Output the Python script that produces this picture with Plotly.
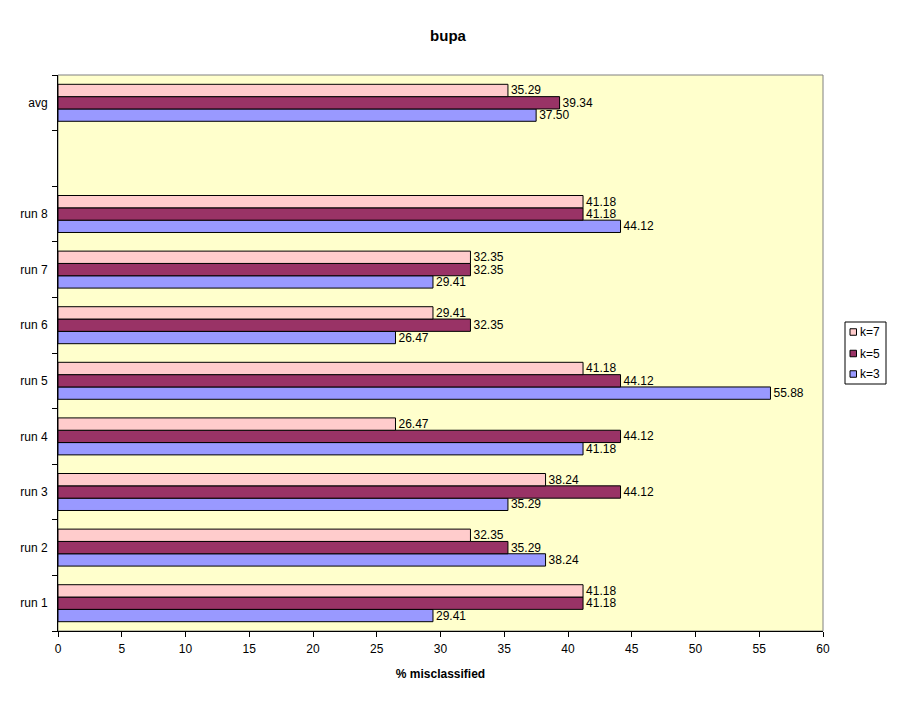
import plotly.graph_objects as go

categories = ["run 1", "run 2", "run 3", "run 4", "run 5", "run 6", "run 7", "run 8", " ", "avg"]
k3 = [29.41, 38.24, 35.29, 41.18, 55.88, 26.47, 29.41, 44.12, None, 37.50]
k5 = [41.18, 35.29, 44.12, 44.12, 44.12, 32.35, 32.35, 41.18, None, 39.34]
k7 = [41.18, 32.35, 38.24, 26.47, 41.18, 29.41, 32.35, 41.18, None, 35.29]
x_ticks = [0, 5, 10, 15, 20, 25, 30, 35, 40, 45, 50, 55, 60]

series = [("k=3", k3, "#9999FF"), ("k=5", k5, "#993366"), ("k=7", k7, "#FFCCCC")]

FONT = "Liberation Sans, Arial"
# page has an 8px body margin; figure is sized so the screen layout matches
W, H = 889, 694
ML, MR, MT, MB = 50, 74, 67, 71
PW, PH = W - ML - MR, H - MT - MB
OFF = 8


def px(X):  # screen x -> paper x
    return (X - OFF - ML) / PW


def py(Y):  # screen y -> paper y
    return (H - MB - (Y - OFF)) / PH


fig = go.Figure()
for name, vals, col in series:
    fig.add_trace(go.Bar(
        name=name, y=categories, x=vals, orientation="h",
        marker=dict(color=col, line=dict(color="black", width=1)),
        texttemplate="%{x:.2f}", textposition="outside", cliponaxis=False,
        constraintext="none", showlegend=False,
        textfont=dict(family=FONT, size=12, color="black"),
    ))

shapes = [dict(type="rect", xref="paper", yref="paper", x0=0, x1=1, y0=0, y1=1,
               line=dict(color="#808080", width=1), layer="below")]
# manual legend (reversed order: k=7 on top)
shapes.append(dict(type="rect", xref="paper", yref="paper",
                   x0=px(845), x1=px(886), y0=py(384), y1=py(322),
                   line=dict(color="black", width=1), fillcolor="white"))
annotations = []
legend_y = [374, 353.5, 332]
for (name, vals, col), ly in zip(series, legend_y):
    shapes.append(dict(type="rect", xref="paper", yref="paper",
                       x0=px(850), x1=px(856.5), y0=py(ly + 3.25), y1=py(ly - 3.25),
                       line=dict(color="black", width=1), fillcolor=col))
    annotations.append(dict(text=name, xref="paper", yref="paper", x=px(858), y=py(ly),
                            xanchor="left", yanchor="middle", showarrow=False,
                            font=dict(family=FONT, size=12, color="black")))

fig.update_layout(
    width=W, height=H,
    paper_bgcolor="white", plot_bgcolor="#FFFFCC",
    font=dict(family=FONT, size=12, color="black"),
    barmode="group", bargap=0.335, bargroupgap=0,
    margin=dict(l=ML, r=MR, t=MT, b=MB, autoexpand=False),
    title=dict(text="<b>bupa</b>", x=(448 - OFF) / W, xref="container", xanchor="center",
               y=1 - 28 / H, yref="container",
               yanchor="middle", font=dict(size=15, family=FONT)),
    xaxis=dict(range=[0, 60], tickvals=x_ticks, ticks="outside", ticklen=5,
               tickcolor="black", showline=True, linecolor="black", linewidth=1,
               showgrid=False, zeroline=False, automargin=False, ticklabelstandoff=2,
               title=dict(text="<b>% misclassified</b>", standoff=14,
                          font=dict(size=12))),
    yaxis=dict(type="category", categoryorder="array", categoryarray=categories,
               tickson="boundaries", ticks="outside", ticklen=5, tickcolor="black",
               showline=True, linecolor="black", linewidth=1, showgrid=False,
               range=[-0.5, 9.5], automargin=False, ticklabelstandoff=7),
    shapes=shapes,
    annotations=annotations,
)

fig.write_html("out.html")
